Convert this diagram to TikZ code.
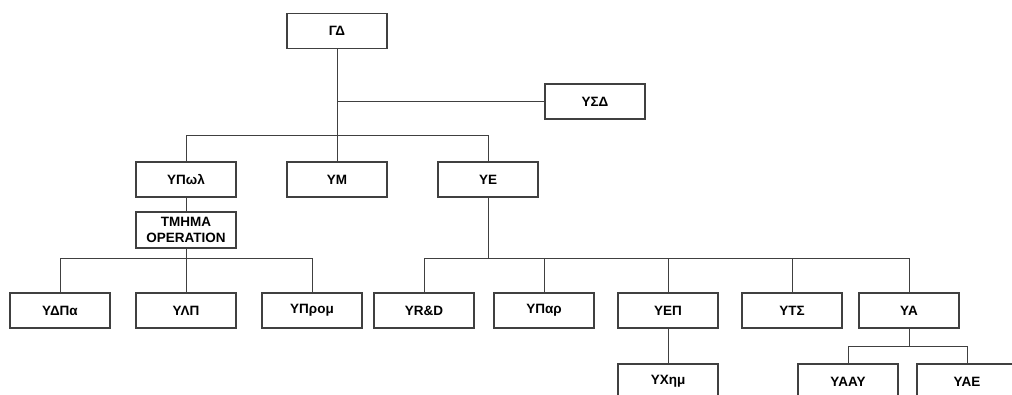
\documentclass[tikz,border=0pt]{standalone}
\usepackage{fontspec}
\setmainfont{Liberation Sans}
\begin{document}
\begin{tikzpicture}[x=1pt,y=-1pt,
  box/.style={draw=black!75,line width=1.3pt,fill=white,minimum width=100pt,minimum height=35pt,inner sep=0pt,align=center,font=\fontsize{13.5}{16}\selectfont\bfseries},
  link/.style={draw=black!75,line width=1pt}]
\useasboundingbox (0,0) rectangle (1012,394);
\clip (0,0) rectangle (1012,394);
\node[box] (GD) at (337,31) {ΓΔ};
\node[box] (YSD) at (595,101.5) {ΥΣΔ};
\node[box] (YPwl) at (186,179.5) {ΥΠωλ};
\node[box] (YM) at (337,179.5) {ΥΜ};
\node[box] (YE) at (488,179.5) {ΥΕ};
\node[box,minimum height=36pt] (OP) at (186,230) {ΤΜΗΜΑ\\OPERATION};
\node[box] (YDPa) at (60,310.5) {ΥΔΠα};
\node[box] (YLP) at (186,310.5) {ΥΛΠ};
\node[box] (YProm) at (312,310.5) {ΥΠρομ};
\node[box] (YRD) at (424,310.5) {ΥR\&D};
\node[box] (YPar) at (544,310.5) {ΥΠαρ};
\node[box] (YEP) at (668,310.5) {ΥΕΠ};
\node[box] (YTS) at (792,310.5) {ΥΤΣ};
\node[box] (YA) at (909,310.5) {ΥΑ};
\node[box] (YXim) at (668,381.5) {ΥΧημ};
\node[box] (YAAY) at (848,381.5) {ΥΑΑΥ};
\node[box] (YAE) at (967,381.5) {ΥΑΕ};
\coordinate (b1) at (0,135);
\coordinate (b2) at (0,258);
\coordinate (b3) at (0,346);
\begin{scope}[on background layer/.try]
\end{scope}
\draw[link] (GD.south) -- (YM.north);
\draw[link] (GD.south |- YSD.west) -- (YSD.west);
\draw[link] (YPwl.north) -- (YPwl.north |- b1) -- (YE.north |- b1) -- (YE.north);
\draw[link] (YPwl.south) -- (OP.north);
\draw[link] (OP.south) -- (YLP.north);
\draw[link] (YDPa.north) -- (YDPa.north |- b2) -- (YProm.north |- b2) -- (YProm.north);
\draw[link] (YE.south) -- (YE.south |- b2);
\draw[link] (YRD.north) -- (YRD.north |- b2) -- (YA.north |- b2) -- (YA.north);
\draw[link] (YPar.north) -- (YPar.north |- b2);
\draw[link] (YEP.north) -- (YEP.north |- b2);
\draw[link] (YTS.north) -- (YTS.north |- b2);
\draw[link] (YEP.south) -- (YXim.north);
\draw[link] (YA.south) -- (YA.south |- b3);
\draw[link] (YAAY.north) -- (YAAY.north |- b3) -- (YAE.north |- b3) -- (YAE.north);
\end{tikzpicture}
\end{document}
